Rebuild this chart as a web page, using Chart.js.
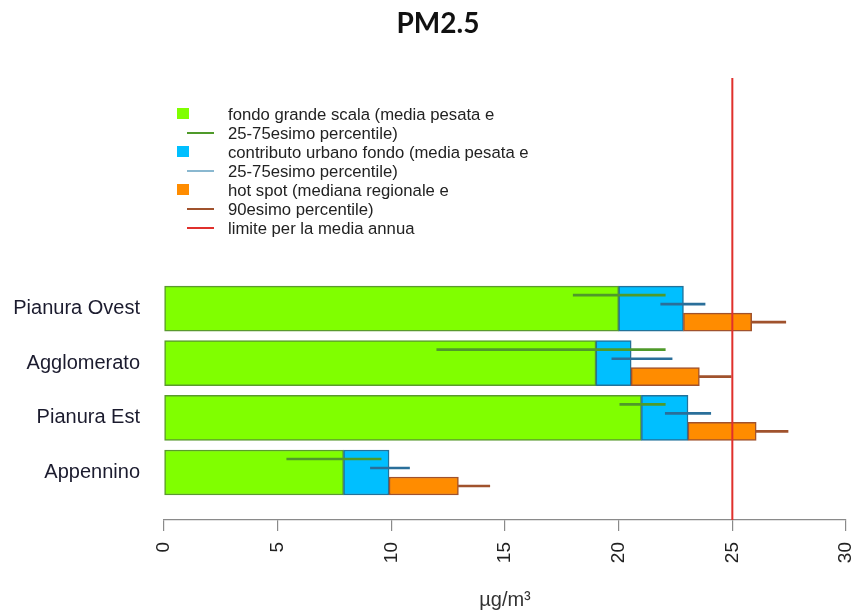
<!DOCTYPE html>
<html><head><meta charset="utf-8">
<script src="https://cdn.jsdelivr.net/npm/chart.js@4.4.1/dist/chart.umd.min.js"></script>
<style>
html,body{margin:0;padding:0;background:#fff;}
#wrap{position:relative;width:855px;height:612px;}
#title{position:absolute;left:338px;width:200px;top:4px;text-align:center;font-family:Lato,"Open Sans",sans-serif;font-weight:bold;font-size:28px;line-height:36px;color:#111;}
#legend{position:absolute;left:0;top:0;font-family:"Liberation Sans",Arial,sans-serif;font-size:16.7px;color:#222;}
.row{position:absolute;left:228px;height:19px;line-height:19px;white-space:nowrap;}
.mk{position:absolute;}
</style></head><body>
<div id="wrap"><canvas id="c" width="855" height="612"></canvas><div id="title">PM2.5</div><div id="legend"></div></div>
<script>
// ---- data ----
const categories = ['Pianura Ovest', 'Agglomerato', 'Pianura Est', 'Appennino'];
const fondoGrandeScala = [20.0, 19.0, 21.0, 7.9];
const fondoP25 = [18.0, 12.0, 20.05, 5.4];
const fondoP75 = [22.05, 22.05, 22.05, 9.55];
const contributoUrbano = [2.85, 1.55, 2.05, 2.0];
const urbanoP25 = [21.85, 19.7, 22.05, 9.08];
const urbanoP75 = [23.8, 22.35, 24.05, 10.8];
const hotSpot = [3.0, 3.0, 3.0, 3.05];
const hotSpotP90 = [27.35, 24.95, 27.45, 14.33];
const limiteMediaAnnua = 25;
const xTicks = [0, 5, 10, 15, 20, 25, 30];
const legendLabels = [
  'fondo grande scala (media pesata e',
  '25-75esimo percentile)',
  'contributo urbano fondo (media pesata e',
  '25-75esimo percentile)',
  'hot spot (mediana regionale e',
  '90esimo percentile)',
  'limite per la media annua'
];

// ---- styles ----
const C_GREEN = '#80ff00', C_GREEN_B = '#5a9a2e', C_GREEN_L = '#4f9a2a';
const C_BLUE = '#00bfff', C_BLUE_B = '#22729a', C_BLUE_L = '#2a6f9a', C_BLUE_LEG = '#8ab8d0';
const C_ORANGE = '#ff8c00', C_ORANGE_B = '#a0522d', C_WHISK = '#a0522d';
const C_RED = '#e0302c';
const Y_MIN = -4.22, Y_MAX = 3.87;
const OFF_GREEN_LINE = -0.247, OFF_BLUE_LINE = -0.082, OFF_HOT = 0.247;

const urbanEnd = fondoGrandeScala.map((g, i) => g + contributoUrbano[i]);
const hotEnd = urbanEnd.map((u, i) => u + hotSpot[i]);

Chart.defaults.font.family = '"Liberation Sans", Arial, sans-serif';

const ds = [
  { type: 'line', order: 0, data: [{x: limiteMediaAnnua, y: Y_MIN}, {x: limiteMediaAnnua, y: Y_MAX}],
    borderColor: C_RED, borderWidth: 2, pointRadius: 0, indexAxis: 'y' },
  { order: 1, data: categories.map((c, i) => ({y: i + OFF_GREEN_LINE, x: [fondoP25[i], fondoP75[i]]})),
    backgroundColor: C_GREEN_L, barThickness: 2, grouped: false },
  { order: 1, data: categories.map((c, i) => ({y: i + OFF_BLUE_LINE, x: [urbanoP25[i], urbanoP75[i]]})),
    backgroundColor: C_BLUE_L, barThickness: 2, grouped: false },
  { order: 1, data: categories.map((c, i) => ({y: i + OFF_HOT, x: [hotEnd[i], hotSpotP90[i]]})),
    backgroundColor: C_WHISK, barThickness: 2, grouped: false },
  { order: 2, data: categories.map((c, i) => ({y: i + OFF_HOT, x: [urbanEnd[i], hotEnd[i]]})),
    backgroundColor: C_ORANGE, borderColor: C_ORANGE_B, borderWidth: 1.5, borderSkipped: false, barThickness: 18, grouped: false },
  { order: 3, data: categories.map((c, i) => ({y: i, x: [fondoGrandeScala[i], urbanEnd[i]]})),
    backgroundColor: C_BLUE, borderColor: C_BLUE_B, borderWidth: 1.5, borderSkipped: false, barThickness: 45, grouped: false },
  { order: 4, data: categories.map((c, i) => ({y: i, x: [0, fondoGrandeScala[i]]})),
    backgroundColor: C_GREEN, borderColor: C_GREEN_B, borderWidth: 1.5, borderSkipped: false, barThickness: 45, grouped: false }
];

new Chart(document.getElementById('c'), {
  type: 'bar',
  data: { datasets: ds },
  options: {
    responsive: false, animation: false, indexAxis: 'y',
    layout: { padding: { left: 0, right: 9, top: 78, bottom: 0 } },
    plugins: {
      legend: { display: false }, tooltip: { enabled: false }, title: { display: false }
    },
    scales: {
      x: {
        type: 'linear', min: 0, max: 30, offset: false,
        afterBuildTicks: s => { s.ticks = xTicks.map(v => ({ value: v })); },
        afterFit: s => { s.height = 92; s.paddingLeft = 0; s.paddingRight = 0; },
        grid: { display: true, drawOnChartArea: false, drawTicks: true, tickLength: 11, color: '#8a8a8a', lineWidth: 1.2 },
        border: { display: true, color: '#8a8a8a', width: 1.2 },
        ticks: { minRotation: 90, maxRotation: 90, padding: 11, color: '#222', font: { size: 19 }, autoSkip: false },
        title: { display: true, text: 'µg/m³', color: '#333', font: { size: 20 }, padding: { top: 0, bottom: 0 } }
      },
      y: {
        type: 'linear', reverse: true, min: Y_MIN, max: Y_MAX, offset: false,
        afterBuildTicks: s => { s.ticks = categories.map((c, i) => ({ value: i })); },
        afterFit: s => { s.width = 164; s.paddingTop = 0; s.paddingBottom = 0; },
        grid: { display: false, drawTicks: false },
        border: { display: false },
        ticks: { padding: 24, color: '#1b1b2e', font: { size: 20 }, autoSkip: false,
          callback: v => categories[v] !== undefined ? categories[v] : '' }
      }
    }
  }
});

// ---- legend (HTML) ----
const legendMarkers = [
  { kind: 'box', color: C_GREEN }, { kind: 'line', color: C_GREEN_L },
  { kind: 'box', color: C_BLUE }, { kind: 'line', color: C_BLUE_LEG },
  { kind: 'box', color: C_ORANGE }, { kind: 'line', color: C_WHISK },
  { kind: 'line', color: C_RED }
];
const leg = document.getElementById('legend');
legendLabels.forEach((t, i) => {
  const cy = 114 + i * 19;
  const row = document.createElement('div');
  row.className = 'row'; row.style.top = (cy - 9.5) + 'px'; row.textContent = t;
  leg.appendChild(row);
  const m = legendMarkers[i];
  const mk = document.createElement('div');
  mk.className = 'mk';
  if (m.kind === 'box') {
    Object.assign(mk.style, { left: '177px', top: (cy - 6) + 'px', width: '12px', height: '11px', background: m.color });
  } else {
    Object.assign(mk.style, { left: '187px', top: (cy - 1) + 'px', width: '27px', height: '2px', background: m.color });
  }
  leg.appendChild(mk);
});
</script>
</body></html>
